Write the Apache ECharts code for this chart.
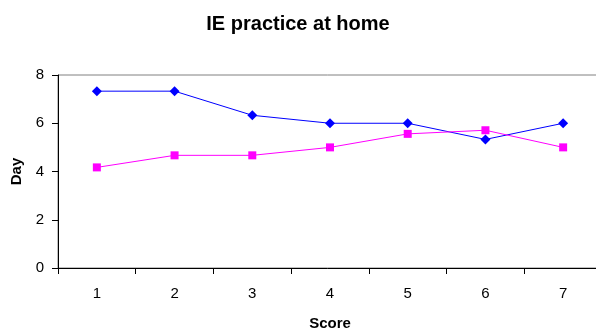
<!DOCTYPE html>
<html>
<head>
<meta charset="utf-8">
<script src="https://cdn.jsdelivr.net/npm/echarts@6/dist/echarts.min.js"></script>
<style>
  html, body { margin: 0; padding: 0; background: #fff; }
  #chart { width: 596px; height: 334px; }
</style>
</head>
<body>
<div id="chart"></div>
<script>
// Scores on the x axis
const scores = ['1', '2', '3', '4', '5', '6', '7'];
// Days of practice per score, two groups
const seriesA = [7.33, 7.33, 6.33, 6, 6, 5.33, 6];
const seriesB = [4.17, 4.67, 4.67, 5, 5.56, 5.71, 5];
// Day axis ticks
const dayMin = 0, dayMax = 8, dayStep = 2;

const font = 'Liberation Sans, Arial, sans-serif';
const chart = echarts.init(document.getElementById('chart'), null, { renderer: 'canvas' });

chart.setOption({
  animation: false,
  backgroundColor: '#ffffff',
  title: {
    text: 'IE practice at home',
    left: 'center',
    top: 9,
    textStyle: { fontFamily: font, fontSize: 20, fontWeight: 'bold', color: '#000' }
  },
  grid: {
    left: 58, right: -6, top: 75, bottom: 66,
    outerBoundsMode: 'none',
    containLabel: false,
    show: true, borderColor: '#808080', borderWidth: 1
  },
  xAxis: {
    type: 'category',
    data: scores,
    boundaryGap: true,
    name: 'Score',
    nameLocation: 'middle',
    nameGap: 48,
    nameTextStyle: { fontFamily: font, fontSize: 15, fontWeight: 'bold', color: '#000' },
    axisLine: { lineStyle: { color: '#000', width: 1 } },
    axisTick: { show: true, length: 6, lineStyle: { color: '#000' } },
    axisLabel: { fontFamily: font, fontSize: 15, color: '#000', margin: 18 },
    splitLine: { show: false }
  },
  yAxis: {
    type: 'value',
    min: dayMin, max: dayMax, interval: dayStep,
    name: 'Day',
    nameLocation: 'middle',
    nameGap: 33,
    nameTextStyle: { fontFamily: font, fontSize: 15, fontWeight: 'bold', color: '#000' },
    axisLine: { show: true, lineStyle: { color: '#000', width: 1 } },
    axisTick: { show: true, length: 6, lineStyle: { color: '#000' } },
    axisLabel: { fontFamily: font, fontSize: 15, color: '#000', margin: 14 },
    splitLine: { show: false }
  },
  series: [
    {
      type: 'line',
      data: seriesA,
      symbol: 'diamond',
      symbolSize: 10,
      showAllSymbol: true,
      lineStyle: { color: '#0000ff', width: 1 },
      itemStyle: { color: '#0000ff' }
    },
    {
      type: 'line',
      data: seriesB,
      symbol: 'rect',
      symbolSize: 8,
      showAllSymbol: true,
      lineStyle: { color: '#ff00ff', width: 1 },
      itemStyle: { color: '#ff00ff' }
    }
  ]
});
</script>
</body>
</html>
